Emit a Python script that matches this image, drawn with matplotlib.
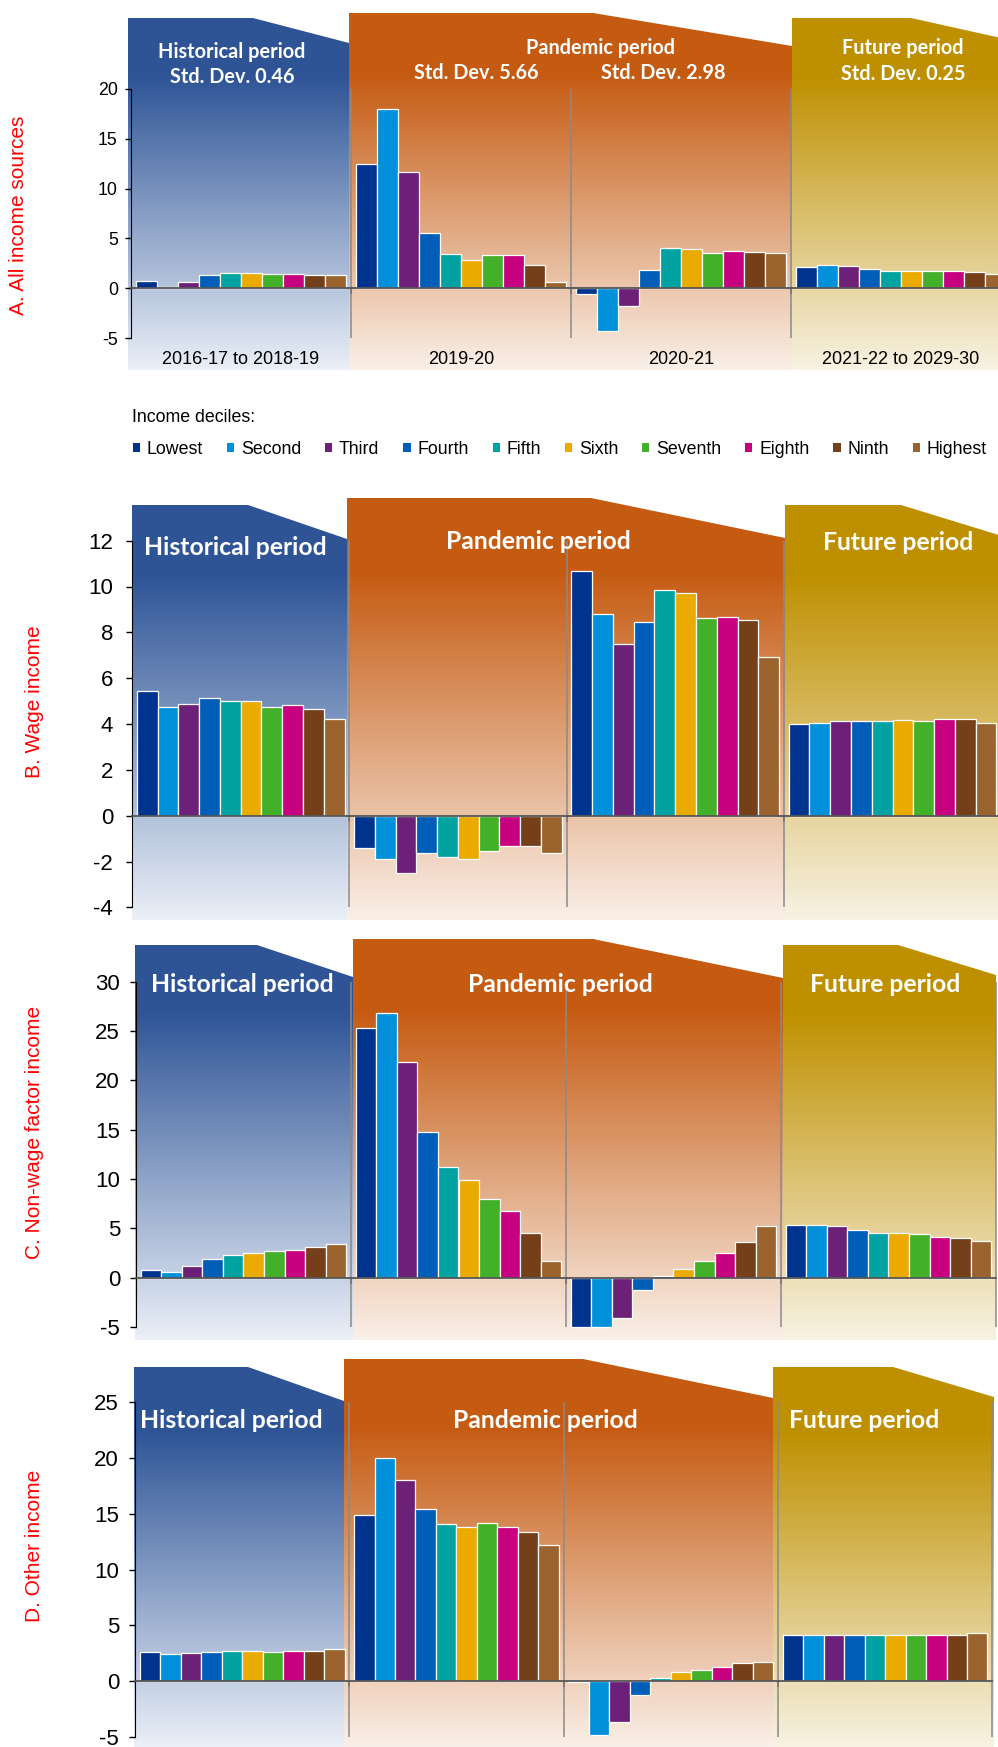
import numpy as np
import matplotlib.pyplot as plt
from matplotlib.patches import Polygon, Patch

W, H = 998, 1747

deciles = ["Lowest", "Second", "Third", "Fourth", "Fifth",
           "Sixth", "Seventh", "Eighth", "Ninth", "Highest"]
decile_colors = ["#00338D", "#0091DA", "#6D2077", "#005EB8", "#00A3A1",
                 "#EAAA00", "#43B02A", "#C6007E", "#753F19", "#9B642E"]
periods = ["2016-17 to 2018-19", "2019-20", "2020-21", "2021-22 to 2029-30"]
std_devs = ["0.46", "5.66", "2.98", "0.25"]

# annual growth by decile, one row per period
all_income = [
    [0.7, 0.1, 0.6, 1.3, 1.5, 1.5, 1.4, 1.4, 1.3, 1.3],
    [12.5, 18.0, 11.7, 5.5, 3.4, 2.8, 3.3, 3.3, 2.3, 0.6],
    [-0.6, -4.3, -1.8, 1.8, 4.0, 3.9, 3.5, 3.7, 3.6, 3.5],
    [2.1, 2.3, 2.2, 1.9, 1.75, 1.75, 1.75, 1.75, 1.6, 1.4],
]
wage_income = [
    [5.46, 4.76, 4.89, 5.15, 5.0, 5.0, 4.76, 4.82, 4.65, 4.24],
    [-1.40, -1.91, -2.49, -1.62, -1.79, -1.91, -1.56, -1.32, -1.32, -1.62],
    [10.66, 8.79, 7.51, 8.45, 9.84, 9.73, 8.62, 8.69, 8.56, 6.93],
    [3.99, 4.06, 4.12, 4.12, 4.12, 4.18, 4.12, 4.24, 4.24, 4.06],
]
nonwage_income = [
    [0.8, 0.6, 1.2, 1.9, 2.3, 2.5, 2.7, 2.8, 3.1, 3.4],
    [25.3, 26.8, 21.9, 14.8, 11.2, 9.9, 8.0, 6.8, 4.5, 1.7],
    [-5.0, -5.0, -4.05, -1.25, 0.2, 0.9, 1.7, 2.5, 3.6, 5.2],
    [5.3, 5.3, 5.2, 4.8, 4.5, 4.5, 4.4, 4.1, 4.0, 3.7],
]
other_income = [
    [2.63, 2.42, 2.54, 2.63, 2.72, 2.72, 2.63, 2.72, 2.72, 2.87],
    [14.9, 20.0, 18.05, 15.45, 14.1, 13.85, 14.2, 13.85, 13.4, 12.2],
    [-0.05, -4.8, -3.7, -1.25, 0.3, 0.8, 1.0, 1.25, 1.6, 1.7],
    [4.13, 4.13, 4.13, 4.13, 4.13, 4.13, 4.13, 4.13, 4.13, 4.28],
]

# period background colours (top, faded bottom)
shade = [((0.184, 0.333, 0.592), (0.92, 0.94, 0.97)),
         ((0.773, 0.353, 0.067), (0.98, 0.94, 0.91)),
         ((0.749, 0.565, 0.0), (0.97, 0.95, 0.89))]

SANS = "Liberation Sans"
HEAD = "Lato"

fig = plt.figure(figsize=(W / 100, H / 100), dpi=100)


def fx(px):
    return px / W


def fy(py):
    return 1 - py / H


def gradient_shape(ax, verts, c_top, c_bot):
    poly = Polygon(verts, closed=True, fc="none", ec="none")
    ax.add_patch(poly)
    xs = [v[0] for v in verts]
    ys = [v[1] for v in verts]
    t = np.linspace(0, 1, 300)[:, None]
    f = np.clip((t - 0.17) / 0.83, 0, 1)
    rgb = (1 - f) * np.array(c_top) + f * np.array(c_bot)
    im = ax.imshow(rgb[:, None, :], extent=(min(xs), max(xs), min(ys), max(ys)),
                   origin="upper", aspect="auto", zorder=0, interpolation="bilinear")
    im.set_clip_path(poly)


def panel(values, yticks, cal, shapes, bottom, tick_fs, tick_pad):
    ax_x, gw, zero, ppu = cal
    top = min(min(s[2], s[4]) for s in shapes) - 2
    left = ax_x - 10
    ax = fig.add_axes([fx(left), fy(bottom), (W - left) / W, (bottom - top) / H])

    def dx(px):
        return (px - ax_x) / gw

    def dy(py):
        return (zero - py) / ppu

    for (xl, xr, yt, xf, yr), (c_top, c_bot) in zip(shapes, shade):
        verts = [(dx(xl), dy(bottom)), (dx(xl), dy(yt)), (dx(xf), dy(yt)),
                 (dx(xr), dy(yr)), (dx(xr), dy(bottom))]
        gradient_shape(ax, verts, c_top, c_bot)

    pad = 0.022
    bw = (1 - 2 * pad) / len(deciles)
    for g, row in enumerate(values):
        x = g + pad + (np.arange(len(row)) + 0.5) * bw
        ax.bar(x, row, width=bw, color=decile_colors, edgecolor="white",
               linewidth=0.9, zorder=3)

    ax.vlines([1, 2, 3, 4], yticks[0], yticks[-1], color="#8a8a8a", lw=1.1, zorder=2)

    for s in ("top", "right"):
        ax.spines[s].set_visible(False)
    ax.spines["left"].set_position(("data", 0))
    ax.spines["left"].set_bounds(yticks[0], yticks[-1])
    ax.spines["left"].set_color("black")
    ax.spines["left"].set_zorder(4)
    ax.spines["bottom"].set_position(("data", 0))
    ax.spines["bottom"].set_bounds(0, 4)
    ax.spines["bottom"].set_color("#555555")
    ax.spines["bottom"].set_linewidth(1.3)
    ax.spines["bottom"].set_zorder(4)

    ax.set_yticks(yticks)
    ax.set_yticklabels([str(v) for v in yticks], fontfamily=SANS)
    ax.tick_params(axis="y", length=4.5, width=1, pad=tick_pad, labelsize=tick_fs)
    ax.set_xticks([1, 2, 3])
    ax.set_xticklabels([])
    ax.tick_params(axis="x", length=4, width=1.2, color="#333333")

    ax.set_xlim(dx(left), dx(W))
    ax.set_ylim(dy(bottom), dy(top))
    ax.patch.set_alpha(0)
    return ax, dy


head = dict(color="white", fontweight="bold", family=HEAD, ha="center", va="center")
big = 17.8

# Panel A: all income sources
axA, dyA = panel(all_income, [-5, 0, 5, 10, 15, 20], (131, 220, 288.3, 9.97),
                 [(128, 349, 18, 253, 43), (349, 792, 13, 593, 46),
                  (792, 1010, 18, 911, 40)], 370, 12.8, 5)
for g, lab in enumerate(periods):
    axA.text(g + 0.5, dyA(360), lab, ha="center", va="center", fontsize=13,
             family=SANS, zorder=5)

fig.text(fx(232), fy(52), "Historical period", fontsize=14.3, **head)
fig.text(fx(232), fy(77), "Std. Dev. " + std_devs[0], fontsize=14.3, **head)
fig.text(fx(601), fy(48), "Pandemic period", fontsize=14.3, **head)
fig.text(fx(476), fy(73), "Std. Dev. " + std_devs[1], fontsize=14.3, **head)
fig.text(fx(663), fy(73), "Std. Dev. " + std_devs[2], fontsize=14.3, **head)
fig.text(fx(903), fy(48), "Future period", fontsize=14.3, **head)
fig.text(fx(903), fy(74), "Std. Dev. " + std_devs[3], fontsize=14.3, **head)

# Panel B: wage income
panel(wage_income, [-4, -2, 0, 2, 4, 6, 8, 10, 12], (132, 217.3, 815.7, 22.92),
      [(132, 347, 505, 248, 539), (347, 785, 498, 591, 538),
       (785, 1002, 505, 901, 536)], 920, 16, 9)
fig.text(fx(235), fy(547), "Historical period", fontsize=big, **head)
fig.text(fx(538), fy(542), "Pandemic period", fontsize=big, **head)
fig.text(fx(898), fy(543), "Future period", fontsize=big, **head)

# Panel C: non-wage factor income
panel(nonwage_income, [-5, 0, 5, 10, 15, 20, 25, 30], (136, 215, 1277.7, 9.87),
      [(135, 353, 945, 257, 977), (353, 783, 939, 593, 978),
       (783, 996, 945, 898, 975)], 1340, 16, 7)
fig.text(fx(242), fy(985), "Historical period", fontsize=big, **head)
fig.text(fx(560), fy(985), "Pandemic period", fontsize=big, **head)
fig.text(fx(885), fy(985), "Future period", fontsize=big, **head)

# Panel D: other income
panel(other_income, [-5, 0, 5, 10, 15, 20, 25], (135, 214.3, 1681, 11.15),
      [(134, 344, 1367, 248, 1401), (344, 773, 1359, 583, 1398),
       (773, 994, 1367, 893, 1397)], 1747, 16, 7)
fig.text(fx(231), fy(1420), "Historical period", fontsize=big, **head)
fig.text(fx(545), fy(1420), "Pandemic period", fontsize=big, **head)
fig.text(fx(864), fy(1420), "Future period", fontsize=big, **head)

# panel names down the left side
side = dict(color="red", rotation=90, ha="center", va="center", fontsize=15, family=SANS)
fig.text(fx(19), fy(215), "A. All income sources", **side)
fig.text(fx(35), fy(702), "B. Wage income", **side)
fig.text(fx(35), fy(1132), "C. Non-wage factor income", **side)
fig.text(fx(35), fy(1546), "D. Other income", **side)

# legend
fig.text(fx(132), fy(418), "Income deciles:", fontsize=12.8, family=SANS, va="center")
handles = [Patch(facecolor=c, edgecolor="none") for c in decile_colors]
fig.legend(handles, deciles, ncol=10, loc="center left",
           bbox_to_anchor=(fx(133), fy(449)), frameon=False,
           prop=dict(family=SANS, size=12.8), handlelength=0.4, handleheight=0.4,
           handletextpad=0.38, columnspacing=1.35, borderpad=0, borderaxespad=0)

fig.savefig("out.png", dpi=100)
